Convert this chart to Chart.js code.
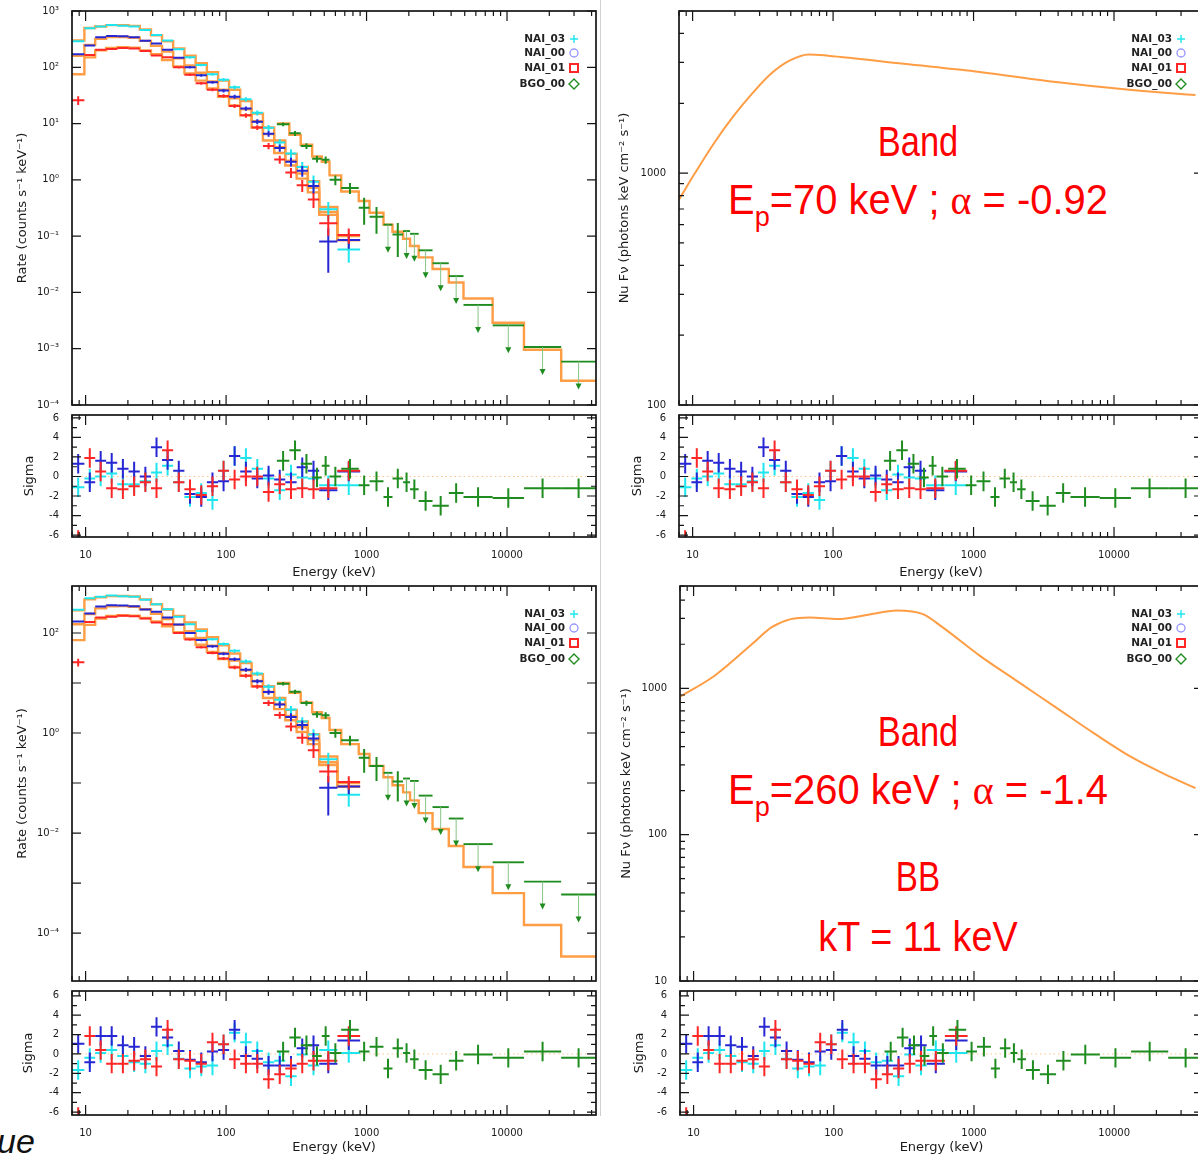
<!DOCTYPE html>
<html>
<head>
<meta charset="utf-8">
<title>Count spectra and model fits</title>
<script src="https://cdn.jsdelivr.net/npm/chart.js@4.4.1/dist/chart.umd.min.js"></script>
<style>
  html, body { margin: 0; padding: 0; background: #fff; }
  body { position: relative; width: 1198px; height: 1157px; overflow: hidden; }
  canvas { position: absolute; }
  .fit { position: absolute; white-space: nowrap; color: #ff0000; font-family: "Liberation Sans", Arial, sans-serif;
         font-size: 42px; line-height: 42px; transform-origin: 50% 50%; }
  .greek { font-family: "Liberation Serif", serif; }
  .sub { font-size: 0.68em; position: relative; top: 12px; }
  .divider { position: absolute; left: 600px; top: 0; width: 1px; height: 1116px; background: #d0d0d0; }
  .tail { position: absolute; left: -3px; top: 1122px; font: italic 34px "Liberation Sans", Arial, sans-serif; color: #111; }
</style>
</head>
<body>
<div class="divider"></div>

<div class="fit" style="left:918px;top:121px;transform:translateX(-50%) scaleX(0.82)">Band</div>
<div class="fit" style="left:918px;top:179px;transform:translateX(-50%) scaleX(0.95)">E<span class="sub">p</span>=70 keV ; <span class="greek">α</span> = -0.92</div>

<div class="fit" style="left:918px;top:711px;transform:translateX(-50%) scaleX(0.82)">Band</div>
<div class="fit" style="left:918px;top:769px;transform:translateX(-50%) scaleX(0.95)">E<span class="sub">p</span>=260 keV ; <span class="greek">α</span> = -1.4</div>
<div class="fit" style="left:918px;top:856px;transform:translateX(-50%) scaleX(0.79)">BB</div>
<div class="fit" style="left:918px;top:916px;transform:translateX(-50%) scaleX(0.9)">kT = 11 keV</div>

<div class="tail">ue</div>

<script>
// ---- detector binning (keV) ----
const naiEdges = [8.0, 9.8, 11.7, 14.0, 16.8, 20.2, 24.3, 29.2, 35.0, 42.0, 50.5, 60.7, 73.0, 87.7, 105, 126, 152, 183, 220, 264, 318, 382, 460, 620, 900];
const bgoEdges = [230, 282, 340, 410, 480, 545, 660, 880, 1050, 1320, 1530, 1820, 2040, 2350, 2950, 3850, 4900, 7900, 13200, 24300, 43000];

// ---- observed count rates (counts/s/keV) and fractional errors ----
const nai03Rate = [290, 495, 530, 565, 545, 530, 460, 375, 300, 210, 150, 110, 75, 60, 44, 27, 15.5, 8.4, 4.6, 2.95, 1.7, 0.93, 0.3, 0.058];
const nai03Err  = [0.04, 0.03, 0.03, 0.03, 0.03, 0.03, 0.03, 0.035, 0.04, 0.045, 0.05, 0.055, 0.06, 0.07, 0.08, 0.09, 0.1, 0.12, 0.15, 0.18, 0.22, 0.28, 0.35, 0.42];
const nai00Rate = [170, 245, 340, 360, 355, 342, 295, 265, 205, 148, 100, 72, 54, 38.5, 30, 18.5, 10.8, 6.6, 3.7, 2.1, 1.45, 0.78, 0.08, 0.085];
const nai00Err  = [0.04, 0.03, 0.03, 0.03, 0.03, 0.03, 0.03, 0.035, 0.04, 0.045, 0.05, 0.055, 0.06, 0.07, 0.08, 0.09, 0.1, 0.12, 0.15, 0.18, 0.22, 0.28, 0.72, 0.3];
const nai01Rate = [26, 165, 205, 212, 220, 215, 195, 162, 150, 100, 74, 52, 40, 31, 20.5, 14, 8.5, 4.0, 2.3, 1.35, 0.8, 0.45, 0.17, 0.105];
const nai01Err  = [0.18, 0.04, 0.03, 0.03, 0.03, 0.03, 0.035, 0.035, 0.04, 0.045, 0.05, 0.055, 0.06, 0.07, 0.08, 0.09, 0.1, 0.13, 0.16, 0.2, 0.24, 0.3, 0.4, 0.3];
const bgoRate   = [9.7, 6.7, 4.0, 2.36, 2.27, 1.0, 0.72, 0.32, 0.22, 0.16, 0.107, 0.123, 0.11, 0.056, 0.033, 0.0195, 0.006, 0.0026, 0.00107, 0.00059];
const bgoErr    = [0.08, 0.1, 0.12, 0.14, 0.15, 0.2, 0.22, 0.5, 0.5, 0, 0.6, 0, 0, 0, 0, 0, 0, 0, 0, 0];
const bgoUpper  = [0, 0, 0, 0, 0, 0, 0, 0, 0, 1, 0, 1, 1, 1, 1, 1, 1, 1, 1, 1];

// ---- folded model counts: Band fit ----
const nai03Band = [300, 500, 530, 560, 560, 545, 470, 370, 290, 215, 160, 118, 82, 58, 40, 25, 15, 8.5, 5.0, 2.9, 1.7, 0.95, 0.33, 0.1];
const nai00Band = [160, 250, 320, 345, 345, 335, 295, 240, 190, 145, 108, 80, 56, 40, 28, 18, 11, 6.5, 3.8, 2.2, 1.3, 0.72, 0.27, 0.085];
const nai01Band = [75, 150, 200, 220, 228, 222, 200, 170, 135, 104, 78, 58, 42, 30, 21, 14, 8.5, 5.0, 3.0, 1.8, 1.05, 0.6, 0.24, 0.085];
const bgoBand   = [10, 6.3, 4.2, 2.6, 2.1, 1.2, 0.62, 0.42, 0.26, 0.16, 0.12, 0.09, 0.067, 0.042, 0.026, 0.015, 0.0078, 0.0029, 0.00096, 0.00027];

// ---- folded model counts: Band + blackbody fit ----
const nai03BandBb = [285, 470, 520, 545, 550, 540, 470, 375, 295, 218, 162, 118, 82, 57, 39, 25, 15, 8.6, 5.0, 2.9, 1.7, 0.95, 0.34, 0.1];
const nai00BandBb = [150, 240, 310, 340, 345, 335, 298, 242, 190, 146, 108, 80, 56, 40, 28, 18, 11, 6.6, 3.8, 2.2, 1.3, 0.72, 0.26, 0.085];
const nai01BandBb = [72, 145, 195, 218, 226, 222, 200, 170, 136, 104, 78, 58, 42, 30, 21, 14, 8.6, 5.0, 3.0, 1.8, 1.05, 0.6, 0.23, 0.085];
const bgoBandBb   = [10, 6.4, 4.1, 2.6, 2.0, 1.15, 0.6, 0.38, 0.22, 0.13, 0.09, 0.065, 0.045, 0.025, 0.012, 0.0055, 0.0021, 0.00063, 0.000145, 0.000034];

// ---- residuals (sigma) ----
const nai03ResBand = [-1.1, -0.2, 0.0, 0.3, -0.8, -0.8, -0.5, 0.4, 1.1, -0.6, -2.1, -1.7, -2.4, 0.6, 2.1, 1.9, 0.8, -0.2, -1.4, 0.2, -0.1, -0.2, -0.9, -0.9];
const nai00ResBand = [1.3, -0.6, 1.6, 1.4, 0.8, 0.5, 0.0, 3.0, 1.7, 0.6, -1.8, -2.1, -0.6, -0.5, 2.1, 0.5, -0.2, 0.1, -0.3, -0.6, 0.95, 0.6, -1.4, 0.5];
const nai01ResBand = [-6.5, 1.9, 0.5, -1.2, -1.3, -1.0, -0.6, -1.2, 2.7, -0.6, -1.3, -1.9, -1.0, 0.6, -0.3, 0.0, 0.0, -1.6, -0.8, -1.3, -1.2, -1.3, -1.2, 0.6];
const bgoResBand   = [1.6, 2.7, 1.3, -0.1, 1.1, 0.0, 0.8, -0.9, -0.5, -2.1, -0.2, -0.6, -1.3, -2.5, -3.0, -1.7, -2.1, -2.2, -1.2, -1.2];

const nai03ResBandBb = [-1.65, -0.4, 0.1, 0.4, -0.2, -0.85, -1.0, 0.3, 0.9, -0.5, -1.5, -1.3, -1.2, 1.0, 2.2, 1.2, 0.3, -0.85, -0.7, -2.3, -0.05, -1.2, 0.4, 0.1];
const nai00ResBandBb = [1.05, -0.85, 1.85, 1.85, 0.9, 0.75, -0.2, 2.8, 1.7, 0.3, -0.6, -0.85, 0.25, 0.4, 2.5, -0.2, -0.5, -1.2, -1.2, -1.2, 0.6, 0.9, -1.0, 1.4];
const nai01ResBandBb = [-6.5, 1.85, 0.4, -1.0, -1.0, -0.7, -0.55, -1.3, 2.5, -0.55, -0.7, -1.0, 1.2, 1.0, -0.55, -1.0, -1.0, -2.6, -2.1, -1.5, -1.0, -0.7, -0.7, 1.85];
const bgoResBandBb   = [0.25, 1.7, 0.9, -0.2, 1.85, 0.1, 2.5, 0.25, 0.75, -1.5, 0.6, 0.1, -0.55, -1.65, -2.1, -0.7, -0.05, -0.4, 0.25, -0.4];

// ---- unfolded nuFnu model curves (photons keV cm^-2 s^-1) ----
const nufnuBandE = [8.0, 10.4, 14.2, 19.4, 26.5, 36.1, 49.3, 67.3, 91.9, 319, 1110, 3860, 13400, 38000];
const nufnuBandF = [769, 1000, 1345, 1750, 2200, 2680, 3060, 3250, 3210, 2960, 2730, 2470, 2280, 2170];
const nufnuBandBbE = [8.1, 14.2, 26.5, 36.1, 49.3, 67.3, 107, 171, 282, 436, 595, 1110, 2070, 3860, 7200, 13400, 25000, 38000];
const nufnuBandBbF = [881, 1224, 2030, 2617, 2970, 3046, 2970, 3170, 3400, 3200, 2617, 1660, 1106, 738, 492, 337, 249, 208];

// ---- axes ----
const energyTicks = [10, 100, 1000, 10000];
const rateTicksTop = [1e3, 1e2, 1e1, 1e0, 1e-1, 1e-2, 1e-3, 1e-4];
const rateTicksBottom = [1e2, 1e0, 1e-2, 1e-4];
const nufnuTicksTop = [1000, 100];
const nufnuTicksBottom = [1000, 100, 10];
const sigmaTicks = [6, 4, 2, 0, -2, -4, -6];
const detectorNames = ['NAI_03', 'NAI_00', 'NAI_01', 'BGO_00'];

const CYAN = '#1fe6ee', BLUE = '#2626d2', RED = '#ff2626', GREEN = '#1f8c1f', ORANGE = '#ff9d45';
const E_MIN = 8, E_MAX = 43000;

Chart.defaults.font.family = '"DejaVu Sans", sans-serif';
Chart.defaults.font.size = 10;
Chart.defaults.color = '#1a1a1a';

const SUP = {'-': '\u207B', '0': '\u2070', '1': '\u00B9', '2': '\u00B2', '3': '\u00B3', '4': '\u2074', '5': '\u2075', '6': '\u2076', '7': '\u2077', '8': '\u2078', '9': '\u2079'};
const powerLabel = v => '10' + String(Math.round(Math.log10(v))).split('').map(c => SUP[c]).join('');

function logTickValues(min, max, minor) {
  const out = [];
  for (let e = Math.floor(Math.log10(min)); e <= Math.ceil(Math.log10(max)); e++) {
    for (let m = 1; m <= 9; m++) {
      if (m > 1 && !minor) continue;
      const v = m * Math.pow(10, e);
      if (v >= min * 0.999 && v <= max * 1.001) out.push([v, m === 1]);
    }
  }
  return out;
}

function linTickValues(min, max) {
  const out = [];
  for (let v = Math.ceil(min); v <= Math.floor(max); v++) out.push([v, v % 2 === 0]);
  return out;
}

// box frame with inward ticks on all four sides
const frameTicks = {
  id: 'frameTicks',
  afterDraw(chart, args, opts) {
    const {ctx, chartArea: a} = chart;
    const x = chart.scales.x, y = chart.scales.y;
    ctx.save();
    ctx.strokeStyle = '#151515';
    ctx.lineWidth = 1.2;
    ctx.beginPath();
    for (const [v, major] of logTickValues(x.min, x.max, true)) {
      const px = x.getPixelForValue(v);
      const len = major ? 10 : 5;
      ctx.moveTo(px, a.bottom); ctx.lineTo(px, a.bottom - len);
      ctx.moveTo(px, a.top); ctx.lineTo(px, a.top + len);
    }
    const yTicks = y.type === 'logarithmic' ? logTickValues(y.min, y.max, opts.yMinor) : linTickValues(y.min, y.max);
    for (const [v, major] of yTicks) {
      const py = y.getPixelForValue(v);
      const len = major ? 9 : 5;
      ctx.moveTo(a.left, py); ctx.lineTo(a.left + len, py);
      ctx.moveTo(a.right, py); ctx.lineTo(a.right - len, py);
    }
    ctx.stroke();
    ctx.lineWidth = 1.7;
    ctx.strokeRect(a.left, a.top, a.right - a.left, a.bottom - a.top);
    ctx.restore();
  }
};

// data crosses and BGO upper limits
const errorMarks = {
  id: 'errorMarks',
  afterDatasetsDraw(chart) {
    const {ctx, chartArea: a} = chart;
    const x = chart.scales.x, y = chart.scales.y;
    ctx.save();
    ctx.beginPath();
    ctx.rect(a.left, a.top, a.right - a.left, a.bottom - a.top);
    ctx.clip();
    chart.data.datasets.forEach(ds => {
      if (!ds.marks) return;
      for (const p of ds.data) {
        const xl = x.getPixelForValue(p.xMin), xr = x.getPixelForValue(p.xMax);
        const xc = x.getPixelForValue(p.x), yc = y.getPixelForValue(p.y);
        ctx.strokeStyle = ds.borderColor;
        ctx.lineWidth = ds.markWidth;
        ctx.beginPath();
        ctx.moveTo(xl, yc); ctx.lineTo(xr, yc);
        if (ds.marks === 'cross') {
          ctx.moveTo(xc, y.getPixelForValue(p.yMax));
          ctx.lineTo(xc, y.getPixelForValue(p.yMin));
          ctx.stroke();
        } else {
          ctx.stroke();
          const tip = yc + 27;
          ctx.strokeStyle = '#86c486';
          ctx.lineWidth = 1;
          ctx.beginPath(); ctx.moveTo(xc, yc); ctx.lineTo(xc, tip - 3); ctx.stroke();
          ctx.fillStyle = ds.borderColor;
          ctx.beginPath();
          ctx.moveTo(xc - 3, tip - 5); ctx.lineTo(xc + 3, tip - 5); ctx.lineTo(xc, tip + 1);
          ctx.closePath(); ctx.fill();
        }
      }
    });
    ctx.restore();
  }
};

// detector key in the upper right corner
const detectorKey = {
  id: 'detectorKey',
  afterDraw(chart, args, opts) {
    if (!opts.show) return;
    const {ctx, chartArea: a} = chart;
    const rows = [28, 42, 57, 73];
    const colors = [CYAN, '#9a9aff', RED, GREEN];
    ctx.save();
    ctx.font = 'bold 10.5px "DejaVu Sans"';
    ctx.textAlign = 'right';
    ctx.textBaseline = 'middle';
    ctx.fillStyle = '#222';
    detectorNames.forEach((name, i) => {
      const yy = a.top + rows[i];
      ctx.fillText(name, a.right - 31, yy);
      const sx = a.right - 22;
      ctx.strokeStyle = colors[i];
      ctx.lineWidth = i === 2 ? 2 : 1.4;
      ctx.beginPath();
      if (i === 0) {
        ctx.moveTo(sx - 4, yy); ctx.lineTo(sx + 4, yy);
        ctx.moveTo(sx, yy - 4); ctx.lineTo(sx, yy + 4);
      } else if (i === 1) {
        ctx.arc(sx, yy, 4, 0, Math.PI * 2);
      } else if (i === 2) {
        ctx.rect(sx - 4, yy - 4, 8, 8);
      } else {
        ctx.moveTo(sx, yy - 5); ctx.lineTo(sx + 5, yy); ctx.lineTo(sx, yy + 5); ctx.lineTo(sx - 5, yy); ctx.closePath();
      }
      ctx.stroke();
    });
    ctx.restore();
  }
};

function stepLine(edges, values, width) {
  const pts = values.map((v, i) => ({x: edges[i], y: v}));
  pts.push({x: edges[edges.length - 1], y: values[values.length - 1]});
  return {type: 'line', data: pts, stepped: true, borderColor: ORANGE, borderWidth: width || 2.4, pointRadius: 0, fill: false};
}

function crossSet(edges, values, errs, color, width, keep) {
  const data = [];
  values.forEach((v, i) => {
    if (keep && !keep(i)) return;
    data.push({x: Math.sqrt(edges[i] * edges[i + 1]), y: v, xMin: edges[i], xMax: edges[i + 1], yMin: v * (1 - errs[i]), yMax: v * (1 + errs[i])});
  });
  return {data, marks: 'cross', borderColor: color, markWidth: width, pointRadius: 0};
}

function upperSet(edges, values, flags, color) {
  const data = [];
  values.forEach((v, i) => {
    if (!flags[i]) return;
    data.push({x: Math.sqrt(edges[i] * edges[i + 1]), y: v, xMin: edges[i], xMax: edges[i + 1]});
  });
  return {data, marks: 'upper', borderColor: color, markWidth: 1.9, pointRadius: 0};
}

function residualSet(edges, sigmas, color) {
  const data = sigmas.map((s, i) => ({x: Math.sqrt(edges[i] * edges[i + 1]), y: s, xMin: edges[i], xMax: edges[i + 1], yMin: s - 1, yMax: s + 1}));
  return {data, marks: 'cross', borderColor: color, markWidth: 2, pointRadius: 0};
}

function energyAxis(labels, height) {
  return {
    type: 'logarithmic', min: E_MIN, max: E_MAX,
    grid: {display: false}, border: {display: false},
    ticks: {display: labels, padding: 4, autoSkip: false, maxRotation: 0, callback: v => String(v)},
    afterBuildTicks: s => { s.ticks = energyTicks.map(v => ({value: v})); },
    title: {display: labels, text: 'Energy (keV)', font: {size: 13}, padding: {top: 0, bottom: 0}},
    afterFit: s => { s.height = height; }
  };
}

function valueAxis(type, min, max, ticks, fmt, title, titlePad, width) {
  return {
    type, min, max,
    grid: {display: false}, border: {display: false},
    ticks: {padding: 5, autoSkip: false, callback: fmt},
    afterBuildTicks: s => { s.ticks = ticks.map(v => ({value: v})); },
    title: {display: true, text: title, font: {size: 13}, padding: {top: titlePad, bottom: 0}},
    afterFit: s => { s.width = width; }
  };
}

function addChart(place, x, y, datasets, extra) {
  const c = document.createElement('canvas');
  c.width = place.w; c.height = place.h;
  c.style.left = place.left + 'px';
  c.style.top = place.top + 'px';
  document.body.appendChild(c);
  return new Chart(c, {
    type: 'scatter',
    data: {datasets},
    options: {
      responsive: false, animation: false, events: [],
      layout: {padding: {top: place.padTop, right: place.padRight, left: 0, bottom: 0}},
      scales: {x, y},
      plugins: {
        legend: {display: false}, tooltip: {enabled: false},
        frameTicks: {yMinor: !!extra.yMinor}, detectorKey: {show: !!extra.key}
      }
    },
    plugins: [frameTicks, errorMarks, detectorKey]
  });
}

function countsData(models) {
  return [
    stepLine(naiEdges, models[0]), stepLine(naiEdges, models[1]), stepLine(naiEdges, models[2]), stepLine(bgoEdges, models[3]),
    crossSet(naiEdges, nai03Rate, nai03Err, CYAN, 2),
    crossSet(naiEdges, nai00Rate, nai00Err, BLUE, 2),
    crossSet(naiEdges, nai01Rate, nai01Err, RED, 2),
    crossSet(bgoEdges, bgoRate, bgoErr, GREEN, 2, i => !bgoUpper[i]),
    upperSet(bgoEdges, bgoRate, bgoUpper, GREEN)
  ];
}

function residualData(res) {
  return [
    {type: 'line', data: [{x: E_MIN, y: 0}, {x: E_MAX, y: 0}], borderColor: '#ffc48a', borderWidth: 1, borderDash: [1.5, 3], pointRadius: 0},
    residualSet(naiEdges, res[0], CYAN),
    residualSet(naiEdges, res[1], BLUE),
    residualSet(naiEdges, res[2], RED),
    residualSet(bgoEdges, res[3], GREEN)
  ];
}

function nufnuData(es, fs) {
  return [{type: 'line', data: es.map((e, i) => ({x: e, y: fs[i]})), borderColor: ORANGE, borderWidth: 2, pointRadius: 0, cubicInterpolationMode: 'monotone'}];
}

const rateTitle = 'Rate (counts s\u207B\u00B9 keV\u207B\u00B9)';
const nufnuTitle = 'Nu F\u03BD (photons keV cm\u207B\u00B2 s\u207B\u00B9)';
const numFmt = v => String(v);

// top row: Band fit
addChart({left: 0, top: 0, w: 600, h: 416, padTop: 10, padRight: 4},
  energyAxis(false, 4),
  valueAxis('logarithmic', 1e-4, 1e3, rateTicksTop, powerLabel, rateTitle, 15, 72),
  countsData([nai03Band, nai00Band, nai01Band, bgoBand]), {key: true});
addChart({left: 0, top: 404, w: 600, h: 176, padTop: 8, padRight: 4},
  energyAxis(true, 43),
  valueAxis('linear', -6.2, 6.3, sigmaTicks, numFmt, 'Sigma', 22, 72),
  residualData([nai03ResBand, nai00ResBand, nai01ResBand, bgoResBand]), {});
addChart({left: 600, top: 0, w: 610, h: 416, padTop: 8, padRight: 7},
  energyAxis(false, 4),
  valueAxis('logarithmic', 100, 5000, nufnuTicksTop, numFmt, nufnuTitle, 17, 79),
  nufnuData(nufnuBandE, nufnuBandF), {key: true, yMinor: true});
addChart({left: 600, top: 404, w: 610, h: 176, padTop: 8, padRight: 7},
  energyAxis(true, 43),
  valueAxis('linear', -6.2, 6.3, sigmaTicks, numFmt, 'Sigma', 30, 79),
  residualData([nai03ResBand, nai00ResBand, nai01ResBand, bgoResBand]), {});

// bottom row: Band + blackbody fit
addChart({left: 0, top: 575, w: 600, h: 417, padTop: 10, padRight: 4},
  energyAxis(false, 4),
  valueAxis('logarithmic', 1.1e-5, 870, rateTicksBottom, powerLabel, rateTitle, 15, 72),
  countsData([nai03BandBb, nai00BandBb, nai01BandBb, bgoBandBb]), {key: true});
addChart({left: 0, top: 980, w: 600, h: 175, padTop: 8, padRight: 4},
  energyAxis(true, 40),
  valueAxis('linear', -6.3, 6.5, sigmaTicks, numFmt, 'Sigma', 21, 72),
  residualData([nai03ResBandBb, nai00ResBandBb, nai01ResBandBb, bgoResBandBb]), {});
addChart({left: 600, top: 575, w: 610, h: 417, padTop: 10, padRight: 7},
  energyAxis(false, 4),
  valueAxis('logarithmic', 10, 5000, nufnuTicksBottom, numFmt, nufnuTitle, 19, 80),
  nufnuData(nufnuBandBbE, nufnuBandBbF), {key: true, yMinor: true});
addChart({left: 600, top: 980, w: 610, h: 175, padTop: 8, padRight: 7},
  energyAxis(true, 40),
  valueAxis('linear', -6.3, 6.5, sigmaTicks, numFmt, 'Sigma', 32, 80),
  residualData([nai03ResBandBb, nai00ResBandBb, nai01ResBandBb, bgoResBandBb]), {});
</script>
</body>
</html>
